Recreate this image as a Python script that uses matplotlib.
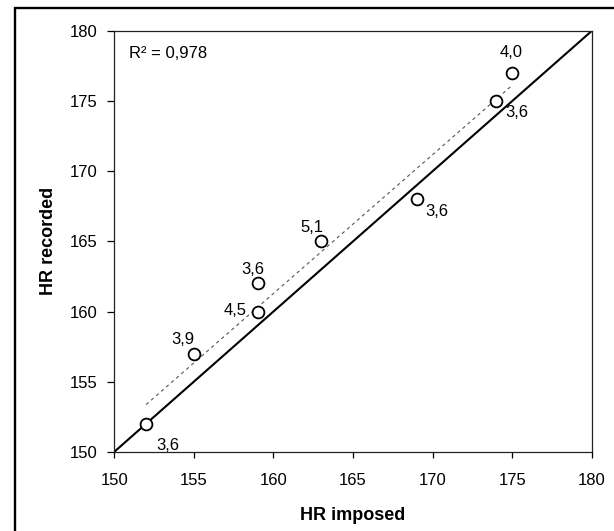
import numpy as np
import matplotlib
matplotlib.use("Agg")
import matplotlib.pyplot as plt
from matplotlib.patches import Rectangle

plt.rcParams['font.family'] = ['Liberation Sans', 'DejaVu Sans']

# data
hr_imposed = [152, 155, 159, 159, 163, 169, 174, 175]
hr_recorded = [152, 157, 160, 162, 165, 168, 175, 177]
point_labels = ["3,6", "3,9", "4,5", "3,6", "5,1", "3,6", "3,6", "4,0"]
ticks = [150, 155, 160, 165, 170, 175, 180]

# label offsets in pixels
offsets = [(22, -22), (-11, 14), (-22, 1), (-5, 14), (-9, 14), (20, -12), (20, -12), (-1, 20)]

fig = plt.figure(figsize=(6.14, 5.31), dpi=100)
ax = fig.add_axes([0.186, 0.149, 0.778, 0.793])

# identity line
ax.plot([ticks[0], ticks[-1]], [ticks[0], ticks[-1]], color='black', lw=1.5, zorder=2)

# regression line
x = np.array(hr_imposed, dtype=float)
y = np.array(hr_recorded, dtype=float)
slope, intercept = np.polyfit(x, y, 1)
xs = np.array([x.min(), x.max()])
ax.plot(xs, slope * xs + intercept, color='#555555', lw=0.8, ls=(0, (3, 3)), zorder=2)
r2 = np.corrcoef(x, y)[0, 1] ** 2

ax.plot(hr_imposed, hr_recorded, 'o', ms=8.5, mfc='white', mec='black', mew=1.3, zorder=3)

for xi, yi, lab, off in zip(hr_imposed, hr_recorded, point_labels, offsets):
    ax.annotate(lab, (xi, yi), xytext=off, textcoords='offset pixels',
                ha='center', va='center', fontsize=12)

ax.text(0.031, 0.947, "R² = " + f"{r2:.3f}".replace('.', ','), transform=ax.transAxes,
        ha='left', va='center', fontsize=12)

ax.set_xlim(ticks[0], ticks[-1])
ax.set_ylim(ticks[0], ticks[-1])
ax.set_xticks(ticks)
ax.set_yticks(ticks)
ax.tick_params(axis='x', direction='out', length=4, width=0.9, labelsize=12, pad=11)
ax.tick_params(axis='y', direction='out', length=5, width=0.9, labelsize=12, pad=7)
for s in ax.spines.values():
    s.set_linewidth(0.9)
    s.set_color('#222222')

ax.set_xlabel("HR imposed", fontsize=13, fontweight='bold')
ax.set_ylabel("HR recorded", fontsize=13, fontweight='bold')
ax.xaxis.set_label_coords(0.5, -0.13)
ax.yaxis.set_label_coords(-0.12, 0.5)

# outer frame (only left and top fall inside the picture)
fig.patches.append(Rectangle((15 / 614, -0.2), 1.5, 1.2 - 7.5 / 531, transform=fig.transFigure,
                             fill=False, lw=1.7, edgecolor='black'))

fig.savefig("out.png", dpi=100)
